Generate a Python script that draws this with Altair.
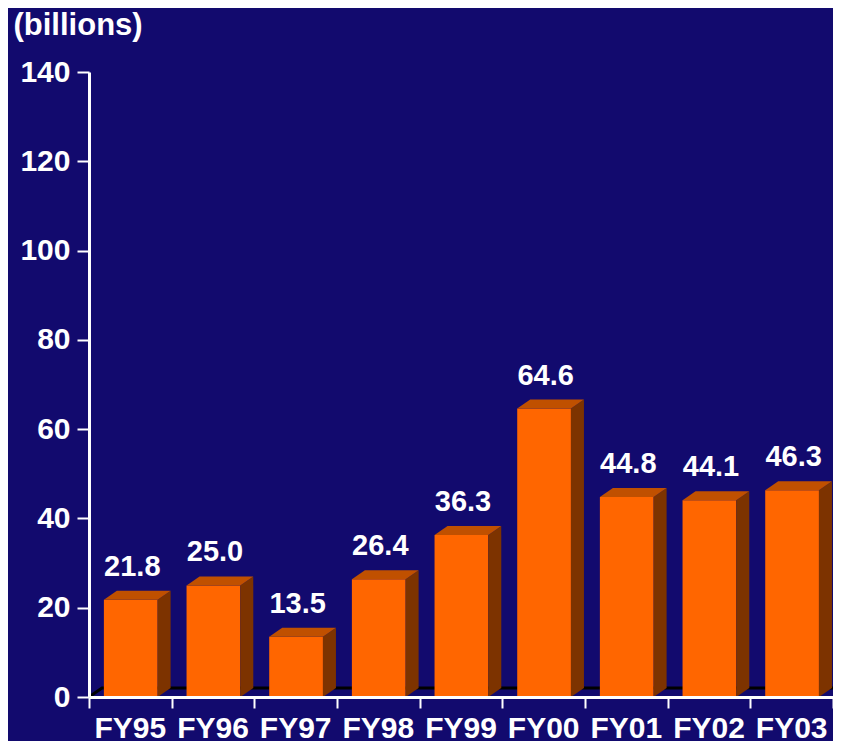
import altair as alt
import pandas as pd

categories = ["FY95", "FY96", "FY97", "FY98", "FY99", "FY00", "FY01", "FY02", "FY03"]
values = [21.8, 25.0, 13.5, 26.4, 36.3, 64.6, 44.8, 44.1, 46.3]
y_ticks = [0, 20, 40, 60, 80, 100, 120, 140]

W, H = 744, 625
N = len(categories)
YMAX = 140
DX = 13 / (W / N)      # depth in x units (13 px)
DY = 9 / (H / YMAX)    # depth in y units (9 px)
L, R = 0.18, 0.83      # front face within band

BG = "#120a6e"
FRONT = "#ff6600"
TOP = "#c05000"
SIDE = "#7d3300"
FONT = "Liberation Sans"

front = pd.DataFrame({
    "cat": categories,
    "x": [i + L for i in range(N)],
    "x2": [i + R for i in range(N)],
    "y0": [0.0] * N,
    "v": values,
    "xc": [i + 0.5 for i in range(N)],
})

side_rows, top_rows = [], []
for i, v in enumerate(values):
    side_rows.append({"b": i, "x": i + R, "y": v, "y2": 0.0})
    side_rows.append({"b": i, "x": i + R + DX, "y": v + DY, "y2": DY})
    top_rows.append({"b": i, "y": v, "x": i + L, "x2": i + R})
    top_rows.append({"b": i, "y": v + DY, "x": i + L + DX, "x2": i + R + DX})
side = pd.DataFrame(side_rows)
top = pd.DataFrame(top_rows)

floor = pd.DataFrame({"x": [0, DX, N + DX], "y": [0, DY, DY], "o": [0, 1, 2]})

xs = alt.Scale(domain=[0, N], nice=False, zero=False)
ys = alt.Scale(domain=[0, YMAX], nice=False)

x_axis = alt.Axis(values=list(range(N + 1)), labels=False, title=None,
                  domainColor="white", domainWidth=3, tickColor="white",
                  tickWidth=2, tickSize=11, grid=False, zindex=1)
y_axis = alt.Axis(values=y_ticks, title="(billions)", titleAngle=0,
                  titleAlign="left", titleBaseline="alphabetic",
                  titleX=-76, titleY=-38, titleFont=FONT, titleFontSize=31,
                  titleFontWeight="bold", titleColor="white",
                  labelFont=FONT, labelFontSize=30, labelFontWeight="bold",
                  labelColor="white", labelPadding=7,
                  domainColor="white", domainWidth=3, tickColor="white",
                  tickWidth=2, tickSize=12, grid=False, zindex=1)

floor_line = alt.Chart(floor).mark_line(color="black", strokeWidth=3).encode(
    x=alt.X("x:Q", scale=xs, axis=x_axis),
    y=alt.Y("y:Q", scale=ys, axis=y_axis),
    order="o:Q",
)

front_bars = alt.Chart(front).mark_rect(color=FRONT).encode(
    x=alt.X("x:Q", scale=xs), x2="x2:Q",
    y=alt.Y("y0:Q", scale=ys), y2="v:Q",
)

side_faces = alt.Chart(side).mark_area(color=SIDE).encode(
    x=alt.X("x:Q", scale=xs),
    y=alt.Y("y:Q", scale=ys, stack=None), y2="y2:Q",
    detail="b:N",
)

top_faces = alt.Chart(top).mark_area(color=TOP, orient="horizontal").encode(
    y=alt.Y("y:Q", scale=ys),
    x=alt.X("x:Q", scale=xs, stack=None), x2="x2:Q",
    detail="b:N",
)

value_labels = alt.Chart(front).mark_text(
    font=FONT, fontSize=29, fontWeight="bold", color="white",
    baseline="alphabetic", align="center", dy=-24, dx=2,
).encode(
    x=alt.X("xc:Q", scale=xs),
    y=alt.Y("v:Q", scale=ys),
    text=alt.Text("v:Q", format=".1f"),
)

cat_labels = alt.Chart(front).mark_text(
    font=FONT, fontSize=30, fontWeight="bold", color="white",
    baseline="alphabetic", align="center",
).encode(
    x=alt.X("xc:Q", scale=xs),
    y=alt.value(H + 41),
    text="cat:N",
)

chart = alt.layer(
    floor_line, front_bars, side_faces, top_faces, value_labels, cat_labels
).properties(
    width=W, height=H,
    background=BG,
    padding={"left": 81, "top": 64, "right": 0, "bottom": 44},
    autosize=alt.AutoSizeParams(type="none"),
).configure_view(stroke=None)

chart.save("out.html", embed_options={"renderer": "svg", "actions": False})
